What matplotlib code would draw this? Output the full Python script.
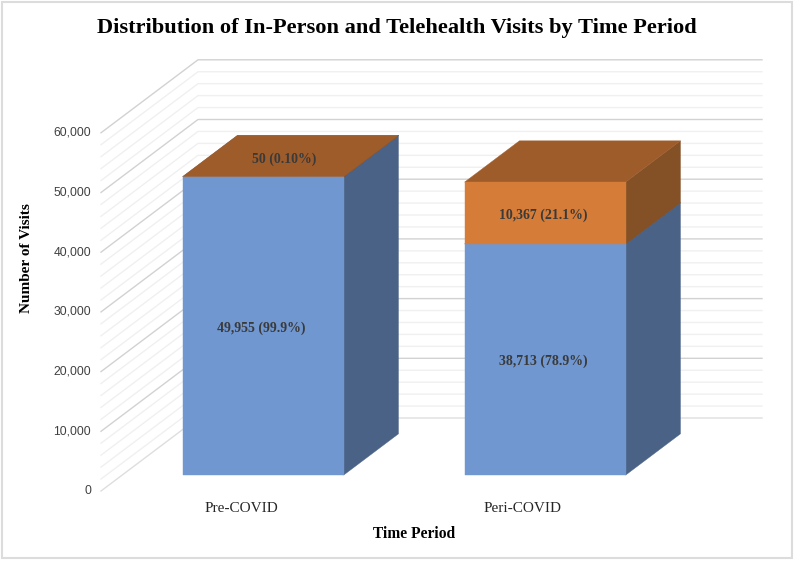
import matplotlib
matplotlib.use('Agg')
import matplotlib.pyplot as plt
from matplotlib.patches import Polygon

categories = ['Pre-COVID', 'Peri-COVID']
in_person = [49955, 38713]
telehealth = [50, 10367]
in_person_labels = ['49,955 (99.9%)', '38,713 (78.9%)']
telehealth_labels = ['50 (0.10%)', '10,367 (21.1%)']
y_ticks = [0, 10000, 20000, 30000, 40000, 50000, 60000]
y_minor_step = 2000

plt.rcParams['font.family'] = ['Liberation Serif', 'DejaVu Serif']

# the axes just runs in pixels of the picture, the 3d look is worked out in proj()
fig = plt.figure(figsize=(7.94, 5.61), dpi=100)
ax = fig.add_axes([0, 0, 1, 1])
ax.set_xlim(0, 794)
ax.set_ylim(561, 0)
ax.axis('off')

FRONT_X = 101
FRONT_Y = 491
WIDTH = 564
PX_PER_VISIT = 59.7 / 10000
DEPTH_X = 97
DEPTH_Y = 73
SLOT = WIDTH / len(categories)
BAR_W = 161
D0 = 0.218
D1 = 0.783


def proj(u, v, d):
    return (FRONT_X + u + d * DEPTH_X, FRONT_Y - v * PX_PER_VISIT - d * DEPTH_Y)


def box(u0, u1, v0, v1, front, side, top):
    ax.add_patch(Polygon([proj(u1, v0, D0), proj(u1, v0, D1), proj(u1, v1, D1), proj(u1, v1, D0)],
                         fc=side, ec=side, lw=0.3, zorder=3))
    ax.add_patch(Polygon([proj(u0, v1, D0), proj(u1, v1, D0), proj(u1, v1, D1), proj(u0, v1, D1)],
                         fc=top, ec=top, lw=0.3, zorder=3))
    ax.add_patch(Polygon([proj(u0, v0, D0), proj(u1, v0, D0), proj(u1, v1, D0), proj(u0, v1, D0)],
                         fc=front, ec=front, lw=0.3, zorder=4))


# frame round the picture
ax.add_patch(plt.Rectangle((1.5, 1.5), 790, 556.5, fc='white', ec='#dcdcdc', lw=1.5, zorder=0))

# grid on the back and side walls
for v in range(0, y_ticks[-1] + 1, y_minor_step):
    major = v in y_ticks
    col = '#d2d2d2' if major else '#f0f0f0'
    if v == 0:
        col = '#dedede'
    a = proj(0, v, 0)
    b = proj(0, v, 1)
    c = proj(WIDTH, v, 1)
    ax.plot([a[0], b[0], c[0]], [a[1], b[1], c[1]], color=col, lw=1.0, zorder=1)

for t in y_ticks:
    x, y = proj(0, t, 0)
    ax.text(x - 10, y, f'{t:,}', ha='right', va='center', fontsize=8.7,
            family=['Liberation Sans'], color='#404040', zorder=5)

for i, cat in enumerate(categories):
    mid = SLOT * (i + 0.5)
    u0 = mid - BAR_W / 2
    u1 = mid + BAR_W / 2
    total = in_person[i] + telehealth[i]
    box(u0, u1, 0, in_person[i], '#7097d0', '#4a6285', '#4a6285')
    box(u0, u1, in_person[i], total, '#d47c38', '#845026', '#9f5c2b')

    x, y = proj(mid, in_person[i] / 2, D0)
    ax.text(x - 1.5, y + 2, in_person_labels[i], ha='center', va='center', fontsize=10,
            fontweight='bold', color='#3a3a3a', zorder=6)
    if telehealth[i] > 1000:
        x, y = proj(mid, in_person[i] + telehealth[i] / 2, D0)
        x, y = x - 1.5, y + 2
    else:
        # too thin to hold text, so it sits on the top face
        x, y = proj(mid, total, (D0 + D1) / 2)
        x, y = x - 6, y + 3
    ax.text(x, y, telehealth_labels[i], ha='center', va='center', fontsize=10,
            fontweight='bold', color='#3a3a3a', zorder=6)
    x, y = proj(mid, 0, 0)
    ax.text(x - 1, 509, cat, ha='center', va='center', fontsize=11, color='#262626', zorder=6)

ax.text(397, 28, 'Distribution of In-Person and Telehealth Visits by Time Period', ha='center',
        va='center', fontsize=16.1, fontweight='bold', color='black')
ax.text(414, 534, 'Time Period', ha='center', va='center', fontsize=11.2, fontweight='bold', color='black')
ax.text(27, 258, 'Number of Visits', ha='center', va='center', rotation=90, fontsize=11,
        fontweight='bold', color='black')

fig.savefig('out.png', dpi=100)
